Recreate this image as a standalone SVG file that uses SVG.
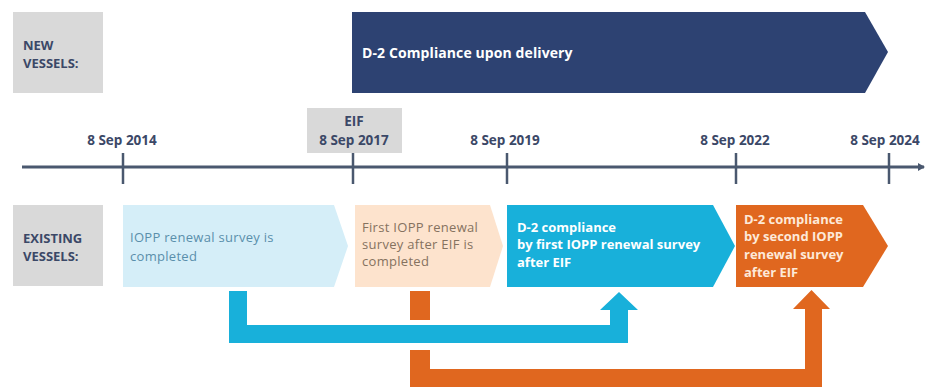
<svg xmlns="http://www.w3.org/2000/svg" width="930" height="387" viewBox="0 0 930 387">
  <style>
    .lbl { font-family: "Open Sans", "Noto Sans", sans-serif; font-weight: 700; font-size: 13px; fill: #3b4867; }
    .date { font-family: "Open Sans", "Noto Sans", sans-serif; font-weight: 700; font-size: 13.5px; fill: #3b4867; text-anchor: middle; }
    .txt { font-family: "Open Sans", "Noto Sans", sans-serif; font-size: 13px; letter-spacing: 0.3px; }
    .bold { font-weight: 700; letter-spacing: 0; }
    .band { font-size: 14px; letter-spacing: 0.1px; }
    .tick { stroke: #4a586f; stroke-width: 2.5; }
  </style>
  <defs>
    <marker id="axisHead" markerWidth="8" markerHeight="8" refX="6" refY="4" orient="auto" markerUnits="userSpaceOnUse">
      <path d="M0,0 L7,4 L0,8 Z" fill="#4a586f"/>
    </marker>
  </defs>
  <rect width="930" height="387" fill="#ffffff"/>

  <!-- row labels -->
  <g id="label-new">
    <rect x="13" y="12" width="90" height="81" fill="#d9d9d9"/>
    <text class="lbl" x="23" y="50">NEW</text>
    <text class="lbl" x="23" y="68">VESSELS:</text>
  </g>
  <g id="label-existing">
    <rect x="13" y="205" width="90" height="81" fill="#d9d9d9"/>
    <text class="lbl" x="23" y="243">EXISTING</text>
    <text class="lbl" x="23" y="261">VESSELS:</text>
  </g>

  <!-- new vessels band -->
  <g id="new-compliance">
    <polygon points="352,12 865,12 888,52 865,93 352,93" fill="#2d4272"/>
    <text class="txt bold band" x="362" y="58" fill="#ffffff">D-2 Compliance upon delivery</text>
  </g>

  <!-- timeline -->
  <g id="timeline">
    <line x1="22" y1="167" x2="924" y2="167" stroke="#4a586f" stroke-width="3" marker-end="url(#axisHead)"/>
    <line class="tick" x1="123" y1="153" x2="123" y2="184"/>
    <line class="tick" x1="353" y1="153" x2="353" y2="184"/>
    <line class="tick" x1="507" y1="153" x2="507" y2="184"/>
    <line class="tick" x1="736" y1="153" x2="736" y2="184"/>
    <line class="tick" x1="889" y1="153" x2="889" y2="184"/>
  </g>
  <g id="date-2014"><text class="date" x="122" y="145">8 Sep 2014</text></g>
  <g id="date-2017">
    <rect x="307" y="108" width="95" height="45" fill="#d9d9d9"/>
    <text class="date" x="354" y="126">EIF</text>
    <text class="date" x="354" y="145">8 Sep 2017</text>
  </g>
  <g id="date-2019"><text class="date" x="505" y="145">8 Sep 2019</text></g>
  <g id="date-2022"><text class="date" x="735" y="145">8 Sep 2022</text></g>
  <g id="date-2024"><text class="date" x="885" y="145">8 Sep 2024</text></g>

  <!-- existing vessels stages -->
  <g id="stage-survey">
    <polygon points="123,205 334,205 348,246 334,287 123,287" fill="#d5eef8"/>
    <text class="txt" x="130" y="242" fill="#5a8fab">IOPP renewal survey is</text>
    <text class="txt" x="130" y="261" fill="#5a8fab">completed</text>
  </g>
  <g id="stage-first-after-eif">
    <polygon points="355,205 490,205 503,246 490,287 355,287" fill="#fde3cd"/>
    <text class="txt" x="362" y="232" fill="#85725f">First IOPP renewal</text>
    <text class="txt" x="362" y="249" fill="#85725f">survey after EIF is</text>
    <text class="txt" x="362" y="266" fill="#85725f">completed</text>
  </g>
  <g id="compliance-first">
    <polygon points="507,205 713,205 735,246 713,287 507,287" fill="#18b0da"/>
    <text class="txt bold" x="517" y="232" fill="#ffffff">D-2 compliance</text>
    <text class="txt bold" x="517" y="249" fill="#ffffff">by first IOPP renewal survey</text>
    <text class="txt bold" x="517" y="267" fill="#ffffff">after EIF</text>
  </g>
  <g id="compliance-second">
    <polygon points="736,205 863,205 888,246 863,287 736,287" fill="#e0671f"/>
    <text class="txt bold" x="744" y="224" fill="#fde9d9">D-2 compliance</text>
    <text class="txt bold" x="744" y="241" fill="#fde9d9">by second IOPP</text>
    <text class="txt bold" x="744" y="259" fill="#fde9d9">renewal survey</text>
    <text class="txt bold" x="744" y="277" fill="#fde9d9">after EIF</text>
  </g>

  <!-- connectors -->
  <g id="connectors">
    <!-- second-survey route, drawn below the first-survey route -->
    <polygon points="410,291 430,291 430,369 805,369 805,309 793,309 811.5,290 830,309 822,309 822,387 410,387" fill="#e0671f"/>
    <!-- white gap where the routes cross -->
    <rect x="400" y="320" width="40" height="30" fill="#ffffff"/>
    <!-- first-survey route -->
    <polygon points="229,291 247,291 247,325 610,325 610,310 600,310 619,292 638,310 628,310 628,343 229,343" fill="#18b0da"/>
  </g>
</svg>
